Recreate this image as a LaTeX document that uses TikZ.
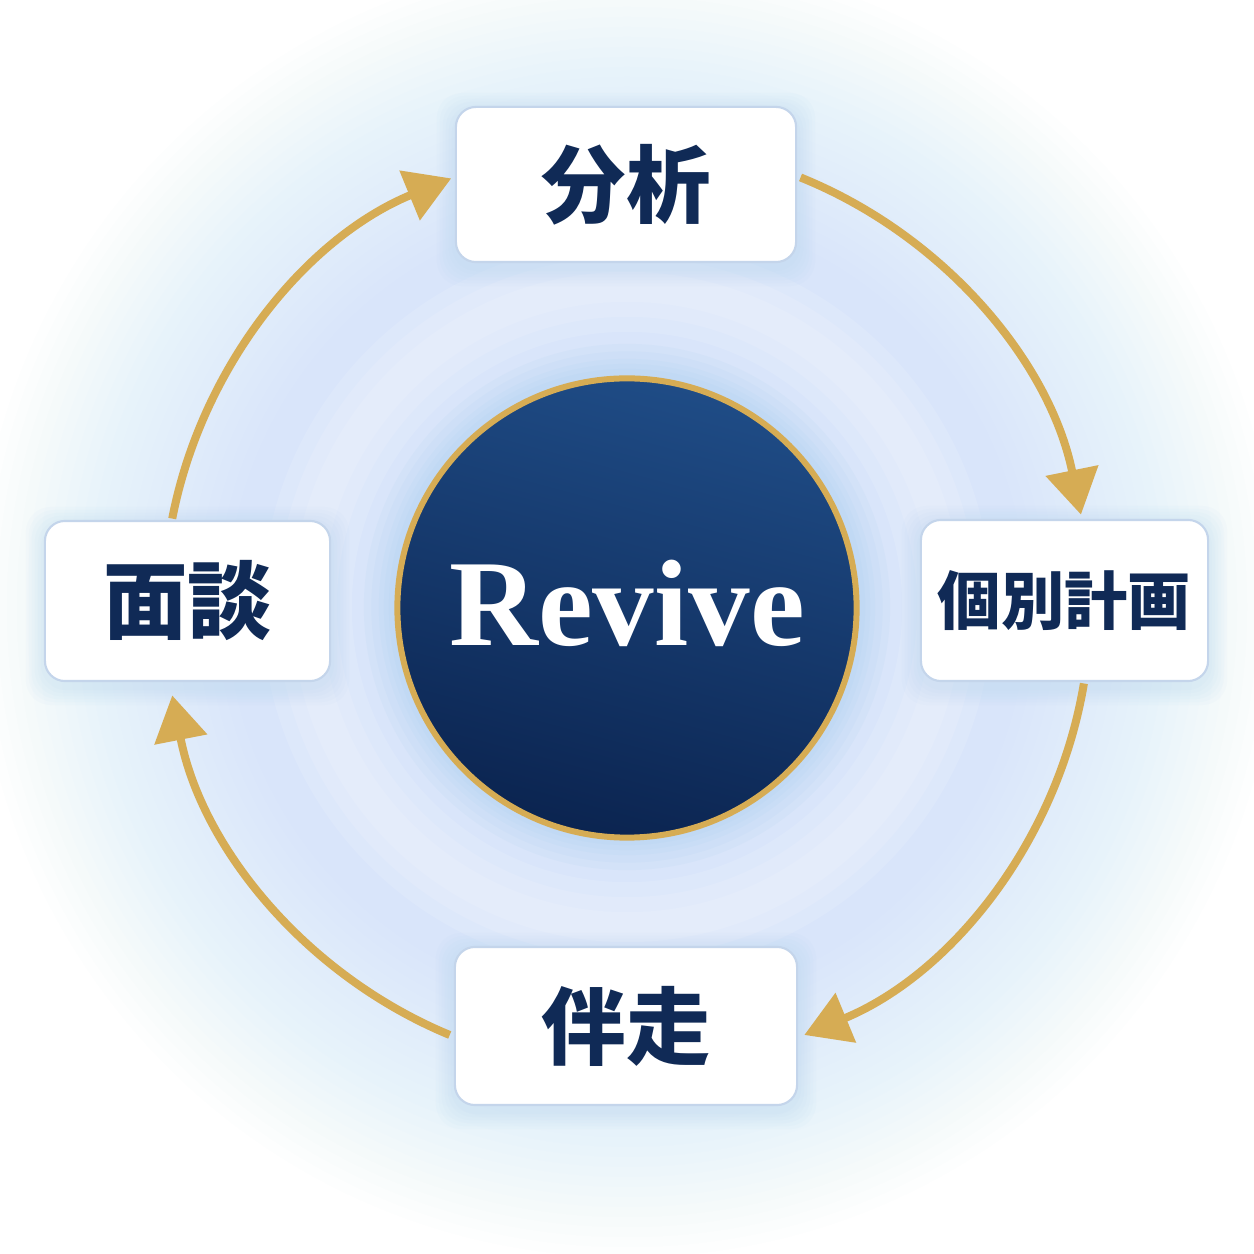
\documentclass[tikz,border=0pt]{standalone}
\usepackage{fontspec}
\setmainfont{Liberation Serif}
\newfontfamily\jp{Noto Sans CJK JP}
\usetikzlibrary{arrows.meta,calc,backgrounds}
\definecolor{navy}{RGB}{16,42,86}
\definecolor{navytop}{RGB}{31,76,134}
\definecolor{navybot}{RGB}{11,36,80}
\definecolor{gold}{RGB}{214,172,84}
\definecolor{glowc}{RGB}{203,228,250}
\definecolor{boxline}{RGB}{196,213,235}
\definecolor{shadowc}{RGB}{170,208,240}
\tikzset{
  stepbox/.style={draw=boxline, line width=0.6pt, fill=white, rounded corners=0.2cm,
    inner sep=0pt, text=navy, font=\jp\bfseries\fontsize{24}{24}\selectfont},
  flow/.style={draw=gold, line width=0.08cm, -{Triangle[length=0.45cm,width=0.52cm]}},
  hub/.style={circle, draw=gold, line width=0.06cm, top color=navytop, bottom color=navybot,
    shading angle=-15, minimum size=4.59cm, inner sep=0pt, text=white, text depth=0.1cm,
    font=\bfseries\fontsize{35}{35}\selectfont},
}
\begin{document}
\begin{tikzpicture}[x=0.01cm,y=0.01cm]
\useasboundingbox (0,0) rectangle (1254,1254);
\coordinate (C) at (627,647);
\node[hub] (hub) at (627,646) {Revive};
\node[stepbox, minimum width=3.40cm, minimum height=1.55cm] (bunseki) at (626,1069.5) {分析};
\node[stepbox, minimum width=2.87cm, minimum height=1.61cm,
      font=\jp\bfseries\fontsize{18}{18}\selectfont] (keikaku) at (1064.5,653.5) {個別計画};
\node[stepbox, minimum width=3.42cm, minimum height=1.58cm] (bansou) at (626,228) {伴走};
\node[stepbox, minimum width=2.85cm, minimum height=1.60cm] (mendan) at (187.5,653) {面談};

\begin{scope}[on background layer]
  \fill[white] (0,0) rectangle (1254,1254);
  \foreach \r in {650,640,...,400}
    \fill[glowc, opacity=0.036] (C) circle[radius=\r*0.01cm];
  \foreach \w in {0.3,0.6,0.9}
    \draw[white, opacity=0.12, line width=\w cm] (C) circle[radius=3.2cm];
  \foreach \w in {0.1,0.2,0.3,0.45,0.6}
    \draw[shadowc, opacity=0.12, line width=\w cm] (C) circle[radius=2.33cm];
  \foreach \n in {bunseki,keikaku,bansou,mendan}{
    \foreach \k in {1,...,6}
      \fill[shadowc, opacity=0.05, rounded corners=0.25cm]
        ($(\n.south west)+(-\k*3,-\k*3-5)$) rectangle ($(\n.north east)+(\k*3,\k*3-5)$);
  }
\end{scope}

\coordinate (a1s) at ($(C)+(68:4.63cm)$);
\coordinate (a2s) at ($(C)+(-9.5:4.63cm)$);
\coordinate (a3s) at ($(C)+(247.5:4.63cm)$);
\coordinate (a4s) at ($(C)+(169:4.63cm)$);
\draw[flow] (a1s) arc[start angle=68, end angle=11.5, radius=4.63cm];
\draw[flow] (a2s) arc[start angle=-9.5, end angle=-67.5, radius=4.63cm];
\draw[flow] (a3s) arc[start angle=247.5, end angle=191, radius=4.63cm];
\draw[flow] (a4s) arc[start angle=169, end angle=112.3, radius=4.63cm];
\end{tikzpicture}
\end{document}
